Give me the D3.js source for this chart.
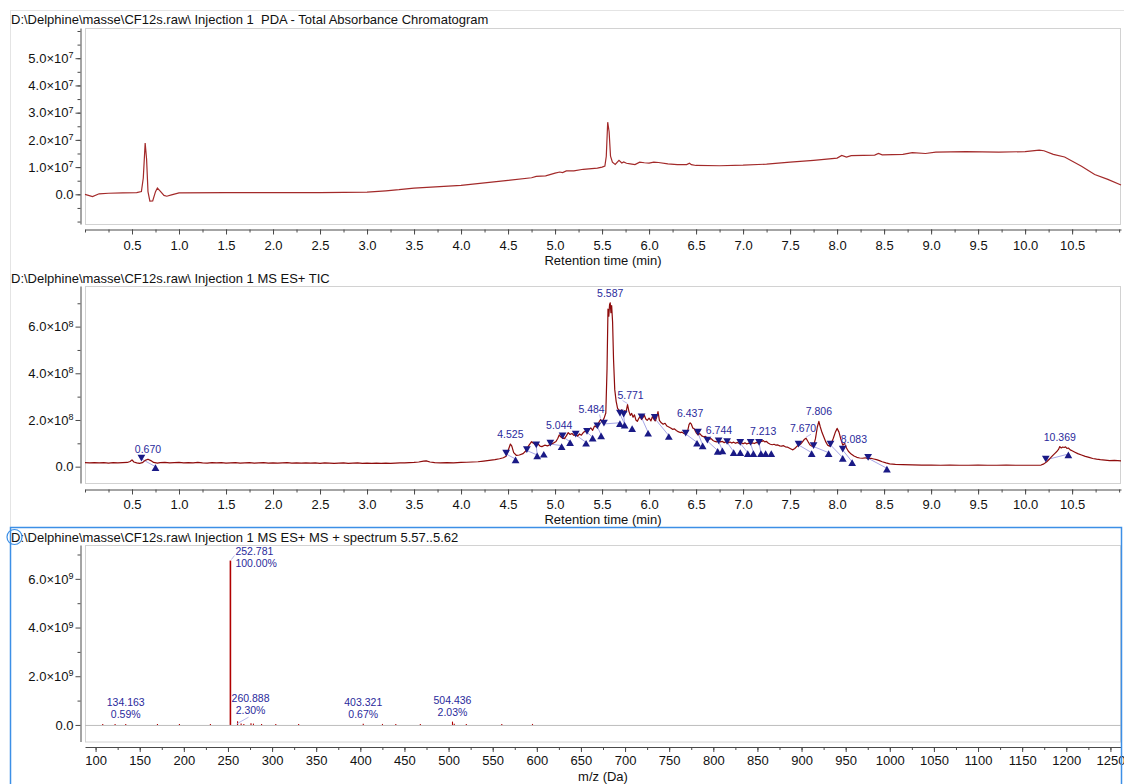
<!DOCTYPE html>
<html>
<head>
<meta charset="utf-8">
<script src="https://cdn.jsdelivr.net/npm/d3@7"></script>
<style>
  body { margin: 0; background: #ffffff; }
  svg { display: block; font-family: Tahoma, "Liberation Sans", Arial, sans-serif; }
  .title { font-size: 13px; fill: #111; white-space: pre; }
  .tick text { font-size: 13px; fill: #111; }
  .axis-title { font-size: 13px; fill: #111; }
  .peak-label { font-size: 10.5px; fill: #2a2a9c; }
</style>
</head>
<body>
<svg id="chart" width="1124" height="784"></svg>
<script>
// ---------- Titles ----------
const titlePDA = "D:\\Delphine\\masse\\CF12s.raw\\ Injection 1  PDA - Total Absorbance Chromatogram";
const titleTIC = "D:\\Delphine\\masse\\CF12s.raw\\ Injection 1 MS ES+ TIC";
const titleMS  = "D:\\Delphine\\masse\\CF12s.raw\\ Injection 1 MS ES+ MS + spectrum 5.57..5.62";

// ---------- PDA total absorbance, [time (min), signal ×10^7] ----------
const pdaPoints = [
  [0.00,0.00],[0.08,-0.08],[0.15,0.02],[0.25,0.04],[0.40,0.05],[0.55,0.06],[0.60,0.10],
  [0.62,0.60],[0.64,1.88],[0.655,1.30],[0.67,0.10],[0.69,-0.25],[0.72,-0.24],[0.75,0.10],
  [0.77,0.23],[0.80,0.12],[0.84,-0.04],[0.87,-0.07],[0.92,-0.02],[1.00,0.05],[1.50,0.06],
  [2.00,0.06],[2.50,0.06],[3.00,0.08],[3.20,0.13],[3.34,0.17],[3.50,0.23],[4.00,0.33],
  [4.50,0.51],[4.75,0.61],[4.80,0.66],[4.90,0.68],[5.00,0.78],[5.05,0.82],[5.08,0.80],
  [5.12,0.86],[5.20,0.86],[5.30,0.92],[5.45,0.96],[5.50,1.00],[5.53,1.04],[5.545,1.40],
  [5.56,2.65],[5.575,2.30],[5.59,1.40],[5.61,1.18],[5.64,1.10],[5.68,1.25],[5.71,1.15],
  [5.73,1.19],[5.76,1.14],[5.80,1.12],[5.85,1.09],[5.90,1.18],[5.95,1.16],[6.00,1.15],
  [6.05,1.18],[6.10,1.17],[6.20,1.12],[6.30,1.09],[6.40,1.09],[6.43,1.14],[6.45,1.09],
  [6.50,1.06],[6.75,1.05],[7.00,1.07],[7.25,1.11],[7.50,1.18],[7.75,1.25],[8.00,1.33],
  [8.05,1.43],[8.10,1.37],[8.15,1.42],[8.40,1.44],[8.44,1.50],[8.48,1.45],[8.70,1.47],
  [8.80,1.53],[8.94,1.50],[9.05,1.55],[9.37,1.57],[9.72,1.55],[10.00,1.57],[10.15,1.62],
  [10.20,1.60],[10.30,1.47],[10.42,1.37],[10.60,1.03],[10.74,0.73],[10.88,0.55],[11.02,0.34]
];

// ---------- MS ES+ TIC, [time (min), intensity ×10^8] ----------
const ticPoints = [
  [0.00,0.17],[0.05,0.16],[0.10,0.17],[0.15,0.16],[0.20,0.17],[0.25,0.15],[0.30,0.17],[0.35,0.16],
  [0.40,0.17],[0.45,0.18],[0.48,0.22],[0.50,0.29],[0.52,0.20],[0.55,0.16],[0.58,0.14],[0.61,0.17],
  [0.64,0.27],[0.670,0.32],[0.70,0.26],[0.73,0.18],[0.77,0.15],[0.80,0.17],[0.85,0.18],[0.90,0.16],
  [0.95,0.17],[1.00,0.18],[1.05,0.16],[1.10,0.17],[1.15,0.16],[1.20,0.18],[1.25,0.16],[1.30,0.15],
  [1.35,0.17],[1.40,0.16],[1.45,0.17],[1.50,0.15],[1.55,0.16],[1.60,0.17],[1.65,0.15],[1.70,0.16],
  [1.75,0.17],[1.80,0.15],[1.85,0.16],[1.90,0.17],[1.95,0.15],[2.00,0.16],[2.05,0.15],[2.10,0.16],
  [2.15,0.17],[2.20,0.15],[2.25,0.16],[2.30,0.15],[2.35,0.16],[2.40,0.15],[2.45,0.16],[2.50,0.14],
  [2.55,0.16],[2.60,0.15],[2.65,0.14],[2.70,0.15],[2.75,0.16],[2.80,0.14],[2.85,0.15],[2.90,0.16],
  [2.95,0.14],[3.00,0.15],[3.05,0.14],[3.10,0.15],[3.15,0.14],[3.20,0.15],[3.25,0.14],[3.30,0.15],
  [3.35,0.16],[3.40,0.16],[3.45,0.17],[3.50,0.18],[3.55,0.20],[3.60,0.24],[3.63,0.25],[3.67,0.20],
  [3.72,0.17],[3.78,0.16],[3.85,0.17],[3.92,0.16],[4.00,0.18],[4.06,0.19],[4.12,0.20],[4.18,0.21],
  [4.24,0.24],[4.30,0.27],[4.36,0.30],[4.41,0.34],[4.45,0.38],[4.48,0.45],[4.50,0.68],[4.525,0.97],
  [4.54,0.88],[4.56,0.60],[4.59,0.48],[4.62,0.50],[4.66,0.56],[4.69,0.68],[4.72,0.90],[4.75,1.07],
  [4.77,1.00],[4.80,0.93],[4.82,0.97],[4.84,0.88],[4.86,0.86],[4.89,0.92],[4.92,0.89],[4.95,0.95],
  [4.98,1.00],[5.01,1.08],[5.03,1.22],[5.044,1.36],[5.06,1.28],[5.08,1.22],[5.10,1.20],[5.12,1.32],
  [5.14,1.46],[5.16,1.38],[5.18,1.42],[5.20,1.34],[5.22,1.38],[5.24,1.31],[5.26,1.40],[5.28,1.35],
  [5.30,1.46],[5.32,1.52],[5.34,1.48],[5.36,1.60],[5.38,1.66],[5.40,1.56],[5.42,1.74],[5.44,1.70],
  [5.46,1.86],[5.484,2.02],[5.50,1.90],[5.52,2.06],[5.54,2.30],[5.553,4.20],[5.563,6.75],[5.572,6.45],
  [5.580,6.95],[5.587,7.02],[5.594,6.60],[5.602,6.90],[5.612,6.20],[5.622,4.60],[5.635,3.30],[5.65,2.80],
  [5.665,2.50],[5.68,2.42],[5.695,2.28],[5.71,2.44],[5.725,2.30],[5.74,2.40],[5.755,2.34],[5.771,2.66],
  [5.785,2.38],[5.80,2.20],[5.815,2.28],[5.83,2.12],[5.845,2.22],[5.86,2.00],[5.875,1.94],[5.89,2.06],
  [5.905,2.16],[5.92,2.02],[5.935,2.10],[5.95,2.20],[5.965,2.04],[5.98,1.98],[6.00,2.08],[6.02,1.96],
  [6.035,2.14],[6.05,2.04],[6.065,1.96],[6.08,2.10],[6.095,2.36],[6.11,1.98],[6.13,1.88],[6.15,1.82],
  [6.17,1.86],[6.19,1.74],[6.21,1.70],[6.23,1.66],[6.25,1.60],[6.27,1.62],[6.29,1.55],[6.31,1.50],
  [6.33,1.46],[6.35,1.48],[6.37,1.42],[6.39,1.40],[6.41,1.52],[6.425,1.80],[6.437,1.88],[6.45,1.82],
  [6.465,1.66],[6.48,1.62],[6.50,1.46],[6.52,1.36],[6.54,1.42],[6.56,1.32],[6.58,1.28],[6.60,1.30],
  [6.62,1.22],[6.64,1.18],[6.66,1.20],[6.68,1.12],[6.70,1.08],[6.72,1.06],[6.744,1.13],[6.76,1.06],
  [6.78,1.08],[6.80,1.03],[6.82,1.07],[6.84,1.02],[6.86,1.06],[6.88,1.01],[6.90,1.05],[6.92,1.00],
  [6.94,1.04],[6.96,0.99],[6.98,1.03],[7.00,0.98],[7.02,1.02],[7.04,0.97],[7.06,1.01],[7.08,0.98],
  [7.10,1.02],[7.12,0.99],[7.14,1.04],[7.16,1.02],[7.18,1.07],[7.20,1.08],[7.213,1.12],[7.23,1.06],
  [7.25,1.08],[7.27,1.00],[7.29,0.96],[7.31,0.94],[7.33,0.96],[7.35,0.92],[7.37,0.93],[7.39,0.89],
  [7.41,0.88],[7.43,0.90],[7.45,0.85],[7.47,0.84],[7.49,0.80],[7.51,0.76],[7.53,0.72],[7.55,0.78],
  [7.57,0.86],[7.59,0.92],[7.61,0.96],[7.63,1.05],[7.65,1.16],[7.670,1.22],[7.69,1.08],[7.71,0.94],
  [7.73,0.88],[7.75,0.90],[7.77,1.20],[7.79,1.70],[7.806,1.94],[7.82,1.72],[7.84,1.46],[7.86,1.26],
  [7.88,1.06],[7.90,0.92],[7.92,0.88],[7.94,1.02],[7.96,1.22],[7.98,1.46],[8.00,1.64],[8.02,1.48],
  [8.04,1.18],[8.06,0.92],[8.083,1.00],[8.10,0.80],[8.12,0.66],[8.15,0.54],[8.18,0.46],[8.21,0.40],
  [8.24,0.37],[8.27,0.36],[8.30,0.38],[8.33,0.34],[8.36,0.36],[8.39,0.33],[8.42,0.30],[8.45,0.26],
  [8.48,0.21],[8.52,0.16],[8.56,0.12],[8.62,0.10],[8.70,0.09],[8.80,0.08],[8.90,0.07],[9.00,0.07],
  [9.10,0.06],[9.20,0.07],[9.30,0.06],[9.40,0.06],[9.50,0.07],[9.60,0.06],[9.70,0.06],[9.80,0.07],
  [9.90,0.06],[10.00,0.06],[10.10,0.06],[10.17,0.07],[10.20,0.12],[10.23,0.21],[10.26,0.33],[10.29,0.46],
  [10.32,0.58],[10.34,0.66],[10.355,0.74],[10.369,0.86],[10.385,0.80],[10.40,0.84],[10.415,0.82],[10.43,0.85],
  [10.445,0.78],[10.46,0.80],[10.48,0.72],[10.50,0.68],[10.53,0.62],[10.56,0.56],[10.60,0.50],[10.64,0.44],
  [10.68,0.40],[10.72,0.35],[10.76,0.32],[10.80,0.30],[10.85,0.28],[10.90,0.26],[10.95,0.27],[11.02,0.25]
];

// Labelled TIC peaks (retention time, min)
const ticPeakRT = [0.670, 4.525, 5.044, 5.484, 5.587, 5.771, 6.437, 6.744, 7.213, 7.670, 7.806, 8.083, 10.369];

// Integration start / end markers, [time (min), level ×10^8]
const ticPeakStarts = [
  [0.60,0.33],[4.48,0.54],[4.70,0.69],[4.80,0.90],[4.95,0.97],[5.08,1.28],[5.22,1.36],[5.34,1.47],
  [5.45,1.71],[5.52,1.83],[5.69,2.26],[5.73,2.21],[5.92,2.10],[6.06,2.07],[6.39,1.40],[6.52,1.44],
  [6.62,1.10],[6.74,1.07],[6.83,1.04],[6.97,1.00],[7.08,1.00],[7.17,1.00],[7.59,0.93],[7.75,0.86],
  [7.93,0.93],[8.06,0.71],[8.33,0.36],[10.22,0.29]
];
const ticPeakEnds = [
  [0.75,0.00],[4.58,0.33],[4.81,0.50],[4.88,0.57],[5.07,0.90],[5.16,1.07],[5.33,1.04],[5.40,1.26],
  [5.49,1.36],[5.69,1.88],[5.74,1.82],[5.82,1.67],[5.99,1.47],[6.21,1.33],[6.51,1.04],[6.57,0.93],
  [6.73,0.69],[6.78,0.71],[6.90,0.64],[6.97,0.64],[7.05,0.60],[7.11,0.60],[7.19,0.60],[7.24,0.60],
  [7.30,0.60],[7.73,0.60],[7.91,0.60],[8.06,0.39],[8.16,0.21],[8.53,-0.07],[10.46,0.54]
];

// ---------- Spectrum 5.57..5.62 min: m/z and relative abundance (%) ----------
const msBasePeakIntensity = 6.75;   // ×10^9, the 100 % peak
const msMz = [
  108.1,122.1,134.163,170.1,195.0,230.1,252.781,260.888,264.9,268.0,276.1,278.9,288.1,
  304.2,330.1,403.321,425.1,440.2,468.0,504.436,506.4,520.1,560.3,595.1
];
const msRelPct = [
  0.35,0.3,0.59,0.25,0.35,0.25,100.00,2.30,0.9,0.6,1.0,0.8,0.5,
  0.3,0.25,0.67,0.35,0.3,0.25,2.03,0.7,0.3,0.3,0.2
];
const msLabeledMz = [134.163, 252.781, 260.888, 403.321, 504.436];

// ---------- Axis ticks ----------
const rtMajorTicks = d3.range(0.5, 10.51, 0.5);
const rtMinorTicks = d3.range(0, 11.01, 0.25);
const mzMajorTicks = d3.range(100, 1251, 50);
const mzMinorTicks = d3.range(100, 1251, 25);
const pdaYMajor = [0, 1, 2, 3, 4, 5];
const pdaYMinor = d3.range(-1, 6.01, 0.5);
const ticYMajor = [0, 2, 4, 6];
const ticYMinor = [1, 3, 5, 7];
const msYMajor = [0, 2, 4, 6];
const msYMinor = [1, 3, 5, 7];

// ---------- Layout ----------
const svg = d3.select("#chart");
const FRAME_L = 85, FRAME_R = 1121, AXIS_X = 80;
const AXIS_COLOR = "#4a4a4a", FRAME_COLOR = "#d2d2d2";
const MARK_BLUE = "#1a1a86", BASE_BLUE = "#a6a6e6";

// window borders
svg.append("line").attr("x1", 10.5).attr("x2", 10.5).attr("y1", 10).attr("y2", 527)
  .attr("stroke", "#e4e4e4");
svg.append("line").attr("x1", 10).attr("x2", 1124).attr("y1", 10.5).attr("y2", 10.5)
  .attr("stroke", "#e4e4e4");

function drawPanel(p) {
  const g = svg.append("g");
  g.append("text").attr("class", "title").attr("x", 11).attr("y", p.titleY).text(p.title);
  g.append("rect")
    .attr("x", FRAME_L + 0.5).attr("y", p.top + 0.5)
    .attr("width", FRAME_R - FRAME_L - 1).attr("height", p.bottom - p.top)
    .attr("fill", "none").attr("stroke", FRAME_COLOR);

  // x axis
  const gx = g.append("g").attr("transform", `translate(0,${p.axisY + 0.5})`);
  gx.call(d3.axisBottom(p.x).tickValues(p.xMinor).tickSize(3).tickSizeOuter(0).tickFormat(""));
  gx.append("g").call(d3.axisBottom(p.x).tickValues(p.xMajor).tickSize(5).tickSizeOuter(0)
    .tickPadding(p.xPad).tickFormat(p.xFormat));
  gx.selectAll("path.domain").attr("stroke", AXIS_COLOR);
  gx.selectAll(".tick line").attr("stroke", AXIS_COLOR);
  gx.selectAll(".tick text").attr("font-family", null).attr("font-size", null);
  gx.selectAll("path.domain").filter((d, i) => i > 0).remove();

  // y axis
  const gy = g.append("g").attr("transform", `translate(${AXIS_X + 0.5},0)`);
  gy.call(d3.axisLeft(p.y).tickValues(p.yMinor).tickSize(3).tickSizeOuter(0).tickFormat(""));
  const gyMaj = gy.append("g").call(d3.axisLeft(p.y).tickValues(p.yMajor).tickSize(5)
    .tickSizeOuter(0).tickPadding(2));
  gyMaj.select("path.domain").remove();
  gy.selectAll("path.domain").attr("stroke", AXIS_COLOR);
  gy.selectAll(".tick line").attr("stroke", AXIS_COLOR);
  gyMaj.selectAll(".tick text").attr("font-family", null).attr("font-size", null).each(function(d) {
    const t = d3.select(this).text(null);
    if (d === 0) { t.text("0.0"); return; }
    t.append("tspan").text(d3.format(".1f")(d) + "\u00d710");
    t.append("tspan").attr("dy", "-0.5em").attr("font-size", "9px").text(p.exp);
  });

  g.append("text").attr("class", "axis-title")
    .attr("x", (FRAME_L + FRAME_R) / 2).attr("y", p.xTitleY)
    .attr("text-anchor", "middle").text(p.xTitle);
  return g;
}

// ---------- Panel 1: PDA ----------
const xRT1 = d3.scaleLinear().domain([0, 11.02]).range([FRAME_L, FRAME_R]);
const yPDA = d3.scaleLinear().domain([-1.09, 6.11]).range([224, 28]);
const p1 = drawPanel({
  title: titlePDA, titleY: 23.5, top: 28, bottom: 224, axisY: 229, xTitleY: 265, xPad: 6,
  x: xRT1, y: yPDA, xMajor: rtMajorTicks, xMinor: rtMinorTicks, xFormat: d3.format(".1f"),
  yMajor: pdaYMajor, yMinor: pdaYMinor, exp: "7", xTitle: "Retention time (min)"
});
p1.append("path").datum(pdaPoints)
  .attr("fill", "none").attr("stroke", "#a32a2a").attr("stroke-width", 1.2)
  .attr("d", d3.line().x(d => xRT1(d[0])).y(d => yPDA(d[1])));

// ---------- Panel 2: TIC ----------
const xRT2 = d3.scaleLinear().domain([0, 11.02]).range([FRAME_L, FRAME_R]);
const yTIC = d3.scaleLinear().domain([-0.70, 7.74]).range([483, 286]);
const p2 = drawPanel({
  title: titleTIC, titleY: 282.5, top: 286, bottom: 483, axisY: 489, xTitleY: 524, xPad: 5,
  x: xRT2, y: yTIC, xMajor: rtMajorTicks, xMinor: rtMinorTicks, xFormat: d3.format(".1f"),
  yMajor: ticYMajor, yMinor: ticYMinor, exp: "8", xTitle: "Retention time (min)"
});

// integration baselines: each start joined to the next end
const baselineSegs = ticPeakStarts.map(s => {
  const e = ticPeakEnds.find(q => q[0] > s[0]) || s;
  return [s, e];
});
p2.append("g").selectAll("line").data(baselineSegs).join("line")
  .attr("x1", d => xRT2(d[0][0])).attr("y1", d => yTIC(d[0][1]))
  .attr("x2", d => xRT2(d[1][0])).attr("y2", d => yTIC(d[1][1]))
  .attr("stroke", BASE_BLUE).attr("stroke-width", 1);

p2.append("path").datum(ticPoints)
  .attr("fill", "none").attr("stroke", "#8e0c0c").attr("stroke-width", 1.2)
  .attr("stroke-linejoin", "round")
  .attr("d", d3.line().x(d => xRT2(d[0])).y(d => yTIC(d[1])));

const tri = d3.symbol().type(d3.symbolTriangle).size(26);
p2.append("g").selectAll("path").data(ticPeakStarts).join("path")
  .attr("d", tri).attr("fill", MARK_BLUE)
  .attr("transform", d => `translate(${xRT2(d[0])},${yTIC(d[1]) - 2}) rotate(180)`);
p2.append("g").selectAll("path").data(ticPeakEnds).join("path")
  .attr("d", tri).attr("fill", MARK_BLUE)
  .attr("transform", d => `translate(${xRT2(d[0])},${yTIC(d[1]) + 2})`);

// peak labels, read the apex height from the trace itself
const labelNudge = { "5.484": [-9, -1], "8.083": [9, 6], "5.771": [3, 0], "7.670": [-3, 0] };
const ticLabels = ticPeakRT.map(rt => {
  const pt = ticPoints.find(q => Math.abs(q[0] - rt) < 1e-6);
  const txt = d3.format(".3f")(rt);
  const n = labelNudge[txt] || [0, 0];
  return { txt, ax: xRT2(rt), ay: yTIC(pt[1]), lx: xRT2(rt) + n[0], ly: yTIC(pt[1]) - 6 + n[1], moved: !!labelNudge[txt] };
});
p2.append("g").selectAll("line").data(ticLabels.filter(d => d.moved)).join("line")
  .attr("x1", d => d.ax).attr("y1", d => d.ay - 1)
  .attr("x2", d => d.lx + (d.lx < d.ax ? 8 : -8)).attr("y2", d => d.ly + 2)
  .attr("stroke", BASE_BLUE).attr("stroke-width", 0.8);
p2.append("g").selectAll("text").data(ticLabels).join("text")
  .attr("class", "peak-label").attr("text-anchor", "middle")
  .attr("x", d => d.lx).attr("y", d => d.ly).text(d => d.txt);

// ---------- Panel 3: spectrum ----------
const xMZ = d3.scaleLinear().domain([88, 1262]).range([FRAME_L, FRAME_R]);
const yMS = d3.scaleLinear().domain([-0.68, 7.39]).range([741.5, 545]);
const p3 = drawPanel({
  title: titleMS, titleY: 541.5, top: 545, bottom: 741.5, axisY: 746.5, xTitleY: 781, xPad: 4,
  x: xMZ, y: yMS, xMajor: mzMajorTicks, xMinor: mzMinorTicks, xFormat: d3.format("d"),
  yMajor: msYMajor, yMinor: msYMinor, exp: "9", xTitle: "m/z (Da)"
});
p3.append("line").attr("x1", FRAME_L).attr("x2", FRAME_R)
  .attr("y1", yMS(0) + 0.5).attr("y2", yMS(0) + 0.5).attr("stroke", "#bdbdbd");

const msData = msMz.map((mz, i) => ({ mz, pct: msRelPct[i], v: msRelPct[i] / 100 * msBasePeakIntensity }));
p3.append("g").selectAll("line").data(msData).join("line")
  .attr("x1", d => xMZ(d.mz)).attr("x2", d => xMZ(d.mz))
  .attr("y1", yMS(0)).attr("y2", d => Math.min(yMS(d.v), yMS(0) - 1))
  .attr("stroke", "#b00000").attr("stroke-width", d => d.pct >= 50 ? 1.6 : 1.1);

const msNudge = { "252.781": { dx: 5, side: true }, "260.888": { dx: 13, dy: -1, lead: true } };
const msLab = msData.filter(d => msLabeledMz.includes(d.mz)).map(d => {
  const key = d3.format(".3f")(d.mz);
  const n = msNudge[key] || {};
  const top = yMS(d.v);
  const x = xMZ(d.mz) + (n.dx || 0);
  const y2 = n.side ? top + 6.5 : Math.min(top, yMS(0) - 1) - 6 + (n.dy || 0);
  return { key, pct: d3.format(".2f")(d.pct) + "%", x, y2, side: !!n.side, lead: !!n.lead, bx: xMZ(d.mz), top };
});
const labG = p3.append("g");
msLab.forEach(d => {
  labG.append("text").attr("class", "peak-label")
    .attr("text-anchor", d.side ? "start" : "middle").attr("x", d.x).attr("y", d.y2 - 12).text(d.key);
  labG.append("text").attr("class", "peak-label")
    .attr("text-anchor", d.side ? "start" : "middle").attr("x", d.x).attr("y", d.y2).text(d.pct);
  if (d.side) {
    labG.append("line").attr("x1", d.bx + 1).attr("y1", d.top - 1).attr("x2", d.x - 1).attr("y2", d.top - 5)
      .attr("stroke", BASE_BLUE).attr("stroke-width", 0.8);
  }
  if (d.lead) {
    labG.append("line").attr("x1", d.bx - 1).attr("y1", yMS(0) - 1).attr("x2", d.x - 2).attr("y2", d.y2 + 3)
      .attr("stroke", BASE_BLUE).attr("stroke-width", 0.8);
  }
});

// active panel outline
svg.append("rect").attr("x", 10.5).attr("y", 527.5).attr("width", 1111).attr("height", 270)
  .attr("fill", "none").attr("stroke", "#3c8fe6").attr("stroke-width", 1.5);
svg.append("circle").attr("cx", 14.5).attr("cy", 537).attr("r", 7.5)
  .attr("fill", "none").attr("stroke", "#3c8fe6").attr("stroke-width", 1.2);
</script>
</body>
</html>
